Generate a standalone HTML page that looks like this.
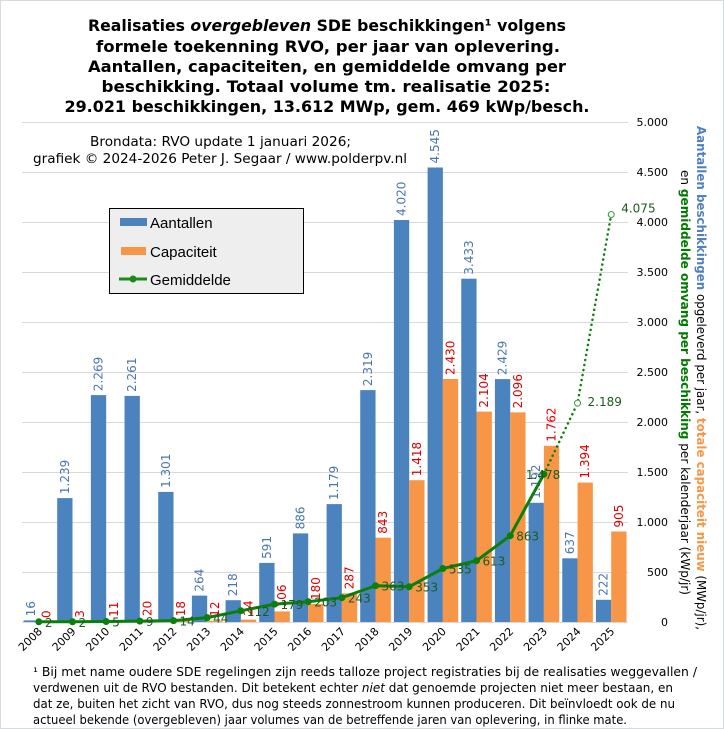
<!DOCTYPE html>
<html><head><meta charset="utf-8"><style>
html,body{margin:0;padding:0;background:#fff}
svg{display:block}
</style></head><body>
<svg width="724" height="729" viewBox="0 0 724 729" xmlns="http://www.w3.org/2000/svg" font-family="DejaVu Sans, Liberation Sans, sans-serif">
<rect x="0.5" y="0.5" width="723" height="728" fill="#fff" stroke="#d4dcdc" stroke-width="1"/>
<g font-weight="bold" font-size="16" fill="#000" text-anchor="middle">
<text x="327" y="31" textLength="478" lengthAdjust="spacingAndGlyphs">Realisaties <tspan font-style="italic">overgebleven</tspan> SDE beschikkingen¹  volgens</text>
<text x="328" y="52" textLength="464" lengthAdjust="spacingAndGlyphs">formele toekenning RVO, per jaar van oplevering.</text>
<text x="327" y="72" textLength="478" lengthAdjust="spacingAndGlyphs">Aantallen, capaciteiten, en gemiddelde omvang per</text>
<text x="326" y="92" textLength="449" lengthAdjust="spacingAndGlyphs">beschikking. Totaal volume tm. realisatie 2025:</text>
<text x="327" y="112" textLength="525" lengthAdjust="spacingAndGlyphs">29.021 beschikkingen, 13.612 MWp, gem. 469 kWp/besch.</text>
</g>
<g stroke="#d9d9d9" stroke-width="1">
<line x1="22" x2="628" y1="122.5" y2="122.5"/><line x1="22" x2="628" y1="172.5" y2="172.5"/>
<line x1="22" x2="628" y1="222.5" y2="222.5"/><line x1="22" x2="628" y1="272.5" y2="272.5"/>
<line x1="22" x2="628" y1="322.5" y2="322.5"/><line x1="22" x2="628" y1="372.5" y2="372.5"/>
<line x1="22" x2="628" y1="422.5" y2="422.5"/><line x1="22" x2="628" y1="472.5" y2="472.5"/>
<line x1="22" x2="628" y1="522.5" y2="522.5"/><line x1="22" x2="628" y1="572.5" y2="572.5"/>
<line x1="22" x2="628" y1="622.5" y2="622.5"/>
</g>
<g font-size="11" fill="#000" text-anchor="end">
<text x="668" y="126">5.000</text><text x="668" y="176">4.500</text><text x="668" y="226">4.000</text>
<text x="668" y="276">3.500</text><text x="668" y="326">3.000</text><text x="668" y="376">2.500</text>
<text x="668" y="426">2.000</text><text x="668" y="476">1.500</text><text x="668" y="526">1.000</text>
<text x="668" y="576">500</text><text x="668" y="626">0</text>
</g>
<g font-size="13" fill="#000">
<text x="90" y="146" textLength="261" lengthAdjust="spacingAndGlyphs">Brondata: RVO update 1 januari 2026;</text>
<text x="33" y="163" textLength="374" lengthAdjust="spacingAndGlyphs">grafiek © 2024-2026 Peter J. Segaar / www.polderpv.nl</text>
</g>
<g id="bars"></g>
<g font-size="12">
<text transform="translate(697,126) rotate(90)" textLength="504" lengthAdjust="spacingAndGlyphs"><tspan font-weight="bold" fill="#4f81bd">Aantallen beschikkingen</tspan><tspan fill="#000"> opgeleverd per jaar, </tspan><tspan font-weight="bold" fill="#f79646">totale capaciteit nieuw</tspan><tspan fill="#000"> (MWp/jr),</tspan></text>
<text transform="translate(681,170) rotate(90)" textLength="425" lengthAdjust="spacingAndGlyphs"><tspan fill="#000">en </tspan><tspan font-weight="bold" fill="#007a00">gemiddelde omvang per beschikking</tspan><tspan fill="#000"> per kalenderjaar (kWp/jr)</tspan></text>
</g>
<rect x="109.5" y="208.5" width="194" height="85" fill="#eeeeee" stroke="#000" stroke-width="1"/>
<rect x="120" y="218" width="27" height="8" fill="#4f81bd"/>
<rect x="121" y="247" width="25" height="8" fill="#f79646"/>
<line x1="119" x2="147" y1="279" y2="279" stroke="#1a8a1a" stroke-width="3"/><circle cx="133" cy="279" r="3.5" fill="#1a8a1a"/>
<g font-family="Liberation Sans, sans-serif" font-size="15" fill="#000">
<text x="150" y="228">Aantallen</text><text x="150" y="257">Capaciteit</text><text x="150" y="285">Gemiddelde</text>
</g>
<g font-size="12" fill="#000">
<text x="33" y="676" textLength="664" lengthAdjust="spacingAndGlyphs">¹ Bij met name oudere SDE regelingen zijn reeds talloze project registraties bij de realisaties weggevallen /</text>
<text x="33" y="692" textLength="640" lengthAdjust="spacingAndGlyphs">verdwenen uit de RVO bestanden. Dit betekent echter <tspan font-style="italic">niet</tspan> dat genoemde projecten niet meer bestaan, en</text>
<text x="33" y="708" textLength="642" lengthAdjust="spacingAndGlyphs">dat ze, buiten het zicht van RVO, dus nog steeds zonnestroom kunnen produceren. Dit beïnvloedt ook de nu</text>
<text x="33" y="724" textLength="594" lengthAdjust="spacingAndGlyphs">actueel bekende (overgebleven) jaar volumes van de betreffende jaren van oplevering, in flinke mate.</text>
</g>
<script>
(function(){
var A=[16,1239,2269,2261,1301,264,218,591,886,1179,2319,4020,4545,3433,2429,1192,637,222];
var C=[0,3,11,20,18,12,24,106,180,287,843,1418,2430,2104,2096,1762,1394,905];
var G=[2,2,5,9,14,44,112,179,203,243,363,353,535,613,863,1478,2189,4075];
var NS="http://www.w3.org/2000/svg",g=document.getElementById('bars');
function el(n,a,t){var e=document.createElementNS(NS,n);for(var k in a)e.setAttribute(k,a[k]);if(t!=null)e.textContent=t;g.appendChild(e);return e;}
function f(v){return v>=1000?Math.floor(v/1000)+"."+("00"+(v%1000)).slice(-3):""+v;}
var W=33.67,x0=22,bw=15.3,Y=function(v){return 622-v/10;};
var pts=[];
for(var i=0;i<18;i++){
 var gs=x0+i*W,b=gs+W/2;
 el('rect',{x:b-bw,y:Y(A[i]),width:bw,height:A[i]/10,fill:'#4a83bd'});
 el('rect',{x:b,y:Y(C[i]),width:bw,height:C[i]/10,fill:'#f79646'});
 var tx=b-bw/2+4,ty=Y(A[i])-4;
 el('text',{transform:'translate('+tx+','+ty+') rotate(-90)','font-size':'12',fill:'#4a76b0'},f(A[i]));
 tx=b+bw/2+4;ty=Y(C[i])-4;
 el('text',{transform:'translate('+tx+','+ty+') rotate(-90)','font-size':'12',fill:'#e00000'},f(C[i]));
 el('text',{transform:'translate('+(b+4)+',632) rotate(-45)','font-size':'11','text-anchor':'end',fill:'#000'},""+(2008+i));
 pts.push([b,Y(G[i])]);
}
var s="",d="";
for(var i=0;i<=15;i++)s+=(i?"L":"M")+pts[i][0]+","+pts[i][1];
for(var i=15;i<=17;i++)d+=(i>15?"L":"M")+pts[i][0]+","+pts[i][1];
el('path',{d:s,fill:'none',stroke:'#0a800a','stroke-width':'3'});
el('path',{d:d,fill:'none',stroke:'#0a800a','stroke-width':'2.5','stroke-dasharray':'0.1 5','stroke-linecap':'round'});
for(var i=0;i<=15;i++)el('circle',{cx:pts[i][0],cy:pts[i][1],r:3.5,fill:'#0a800a'});
el('circle',{cx:pts[16][0],cy:pts[16][1],r:3,fill:'#fff',stroke:'#3a9a3a'});
el('circle',{cx:pts[17][0],cy:pts[17][1],r:3,fill:'#fff',stroke:'#3a9a3a'});
for(var i=0;i<18;i++){
 var lx=pts[i][0]+6,ly=pts[i][1]+5;
 if(i==15){lx=pts[i][0]-18;ly=pts[i][1]+5;}
 if(i==16){lx=pts[i][0]+10;ly=pts[i][1]+3;}
 if(i==17){lx=pts[i][0]+10;ly=pts[i][1]-2;}
 el('text',{x:lx,y:ly,'font-size':'12',fill:'#1e5a1e'},f(G[i]));
}
})();
</script>
</svg>
</body></html>
